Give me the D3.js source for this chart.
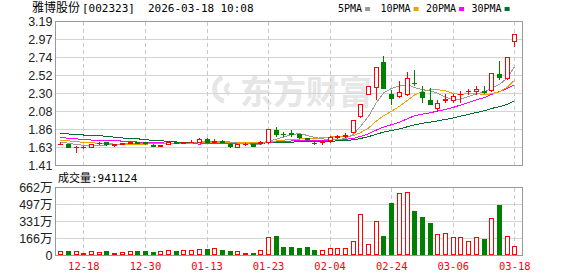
<!DOCTYPE html>
<html>
<head>
<meta charset="utf-8">
<script src="https://cdn.jsdelivr.net/npm/d3@7/dist/d3.min.js"></script>
<style>
  body { margin: 0; background: #fff; }
  svg { display: block; }
  text { font-family: 'Liberation Sans', Arial, 'Noto Sans CJK SC', sans-serif; }
  .mono { font-family: 'DejaVu Sans Mono', 'Noto Sans CJK SC', monospace; }
</style>
</head>
<body>
<div class="kline"></div>
<script>
// trading days shown (60 sessions)
const dates = ['12-15','12-16','12-17','12-18','12-19','12-22','12-23','12-24','12-25','12-26',
  '12-29','12-30','12-31','01-05','01-06','01-07','01-08','01-09','01-12','01-13',
  '01-14','01-15','01-16','01-19','01-20','01-21','01-22','01-23','01-26','01-27',
  '01-28','01-29','01-30','02-02','02-03','02-04','02-05','02-06','02-09','02-10',
  '02-11','02-12','02-13','02-24','02-25','02-26','02-27','03-02','03-03','03-04',
  '03-05','03-06','03-09','03-10','03-11','03-12','03-13','03-16','03-17','03-18'];

const open = [1.678,1.68,1.635,1.635,1.64,1.685,1.695,1.66,1.68,1.69,
  1.70,1.695,1.665,1.655,1.68,1.70,1.69,1.70,1.705,1.74,
  1.705,1.715,1.675,1.64,1.675,1.675,1.69,1.695,1.85,1.805,
  1.81,1.795,1.745,1.69,1.70,1.72,1.765,1.77,1.82,2.025,
  2.30,2.375,2.685,2.30,2.27,2.29,2.425,2.32,2.22,2.12,
  2.225,2.22,2.295,2.325,2.33,2.33,2.34,2.54,2.49,2.945];
const high = [1.70,1.68,1.645,1.655,1.68,1.70,1.70,1.675,1.69,1.71,
  1.705,1.70,1.67,1.665,1.70,1.715,1.705,1.725,1.745,1.745,
  1.74,1.725,1.68,1.68,1.685,1.68,1.71,1.865,1.89,1.82,
  1.845,1.80,1.755,1.705,1.72,1.77,1.785,1.81,1.97,2.17,
  2.39,2.63,2.765,2.34,2.46,2.57,2.59,2.395,2.37,2.22,
  2.30,2.30,2.33,2.35,2.39,2.395,2.55,2.70,2.75,3.03];
const low = [1.67,1.64,1.58,1.625,1.635,1.68,1.66,1.655,1.675,1.685,
  1.685,1.68,1.645,1.645,1.675,1.685,1.685,1.695,1.70,1.695,
  1.69,1.70,1.64,1.635,1.665,1.65,1.68,1.69,1.775,1.77,
  1.775,1.75,1.725,1.675,1.67,1.70,1.755,1.765,1.82,2.015,
  2.30,2.23,2.365,2.175,2.26,2.28,2.40,2.20,2.165,2.08,
  2.19,2.19,2.20,2.30,2.30,2.31,2.33,2.485,2.485,2.89];
const close = [1.68,1.64,1.64,1.64,1.675,1.69,1.67,1.67,1.685,1.70,
  1.69,1.685,1.655,1.66,1.695,1.69,1.70,1.705,1.74,1.70,
  1.71,1.705,1.645,1.675,1.675,1.655,1.695,1.86,1.80,1.80,
  1.805,1.76,1.74,1.685,1.705,1.76,1.77,1.79,1.97,2.17,
  2.39,2.63,2.37,2.25,2.32,2.49,2.425,2.26,2.17,2.18,
  2.23,2.27,2.30,2.33,2.36,2.32,2.55,2.50,2.75,3.03];

// volume in 万股
const volume = [39,48,48,29,45,35,39,20,35,48,
  39,39,32,39,55,48,55,55,65,68,
  74,58,39,39,26,29,55,181,194,87,
  87,77,87,58,55,74,74,74,145,407,
  113,336,194,510,607,617,436,378,320,213,
  223,181,181,145,181,165,368,487,191,94.1];

// moving averages as drawn
const ma5 = [1.70,1.685,1.67,1.66,1.655,1.657,1.663,1.669,1.678,1.683,
  1.683,1.686,1.683,1.678,1.677,1.677,1.68,1.69,1.706,1.707,
  1.711,1.712,1.70,1.687,1.682,1.671,1.669,1.712,1.737,1.762,
  1.792,1.805,1.781,1.758,1.739,1.73,1.732,1.742,1.799,1.892,
  2.018,2.19,2.306,2.362,2.392,2.412,2.371,2.349,2.333,2.305,
  2.253,2.222,2.23,2.262,2.298,2.316,2.372,2.412,2.496,2.63];
const ma10 = [1.725,1.715,1.705,1.695,1.69,1.685,1.68,1.675,1.672,1.669,
  1.67,1.675,1.677,1.679,1.681,1.681,1.684,1.687,1.693,1.693,
  1.695,1.696,1.695,1.696,1.694,1.691,1.69,1.707,1.713,1.723,
  1.732,1.737,1.747,1.748,1.751,1.761,1.769,1.762,1.779,1.816,
  1.874,1.961,2.024,2.081,2.142,2.215,2.281,2.328,2.348,2.349,
  2.333,2.297,2.29,2.298,2.302,2.285,2.297,2.321,2.379,2.464];
const ma20 = [1.76,1.745,1.74,1.73,1.725,1.725,1.72,1.715,1.712,1.705,
  1.70,1.70,1.695,1.69,1.685,1.68,1.68,1.68,1.675,1.681,
  1.682,1.685,1.686,1.688,1.688,1.686,1.687,1.697,1.703,1.708,
  1.713,1.717,1.721,1.722,1.723,1.726,1.73,1.734,1.746,1.769,
  1.803,1.849,1.885,1.914,1.946,1.988,2.025,2.045,2.063,2.082,
  2.103,2.129,2.157,2.189,2.222,2.25,2.289,2.324,2.363,2.406];
const ma30 = [1.81,1.80,1.79,1.787,1.785,1.78,1.77,1.76,1.75,1.745,
  1.74,1.73,1.72,1.715,1.71,1.70,1.70,1.70,1.692,1.69,
  1.69,1.689,1.688,1.687,1.686,1.686,1.687,1.689,1.692,1.695,
  1.699,1.703,1.706,1.708,1.709,1.711,1.714,1.718,1.728,1.744,
  1.767,1.798,1.822,1.842,1.863,1.889,1.913,1.932,1.946,1.962,
  1.98,1.998,2.02,2.042,2.065,2.087,2.115,2.137,2.168,2.209];

// axis labels
const priceTicks = [3.19, 2.97, 2.74, 2.52, 2.30, 2.08, 1.86, 1.63, 1.41];
const volTicks = [662, 497, 331, 166, 0];
const dateTicks = ['12-18','12-30','01-13','01-23','02-04','02-24','03-06','03-18'];
const maNames = ['5PMA', '10PMA', '20PMA', '30PMA'];

const title = { name: '雅博股份', code: '[002323]', day: '2026-03-18', time: '10:08' };
const lastVolume = '941124';

// styles
const RED = '#ff0000', GREEN = '#008000';
const maColors = ['#9a9a9a', '#f0a000', '#ff00ff', '#00702d'];

const W = 578, H = 276;
const left = 55.5, right = 522.5;

const svg = d3.select('.kline').append('svg')
  .attr('width', W).attr('height', H);

// scales
const x = d3.scaleBand().domain(dates).range([56.45, 518.15]);
const y = d3.scaleLinear().domain([1.41, 3.19]).range([165.5, 21.5]);
const yv = d3.scaleLinear().domain([0, 662]).range([255.5, 187.5]);
const cx = d => Math.round(x(d) + x.bandwidth() / 2);
const px = v => Math.floor(v) + 0.5;

// watermark
const wm = svg.append('g').attr('class', 'watermark').style('fill', '#e6e6e6');
const arc = d3.arc();
wm.append('path')
  .attr('transform', 'translate(227,89)')
  .attr('d', arc({ innerRadius: 10, outerRadius: 15, startAngle: -Math.PI * 0.92, endAngle: -Math.PI * 0.12 }));
wm.append('path')
  .attr('transform', 'translate(231,89)')
  .attr('d', arc({ innerRadius: 3, outerRadius: 7, startAngle: -Math.PI * 0.9, endAngle: -Math.PI * 0.1 }));
wm.append('text')
  .attr('x', 240).attr('y', 104)
  .style('font-family', "'Noto Sans CJK SC', sans-serif")
  .style('font-weight', 700)
  .style('font-size', '33px')
  .text('东方财富');

const grid = svg.append('g').attr('shape-rendering', 'crispEdges');

// horizontal grid lines
grid.selectAll('.hgrid')
  .data(priceTicks.slice(1, -1))
  .join('line')
  .attr('x1', left).attr('x2', right)
  .attr('y1', d => px(y(d))).attr('y2', d => px(y(d)))
  .attr('stroke', '#d4d4d4');

grid.selectAll('.vgridv')
  .data(volTicks.slice(1, -1))
  .join('line')
  .attr('x1', left).attr('x2', right)
  .attr('y1', d => px(yv(d))).attr('y2', d => px(yv(d)))
  .attr('stroke', '#d4d4d4');

// vertical dashed lines at labelled dates
[[21.5, 165.5], [187.5, 255.5]].forEach(([t, b]) => {
  grid.append('g').selectAll('line')
    .data(dateTicks)
    .join('line')
    .attr('x1', d => cx(d) + 0.5).attr('x2', d => cx(d) + 0.5)
    .attr('y1', t).attr('y2', b)
    .attr('stroke', '#c8c8c8')
    .attr('stroke-dasharray', '4,3');
});

// pane frames
[[21.5, 165.5], [187.5, 255.5]].forEach(([t, b]) => {
  grid.append('rect')
    .attr('x', left).attr('y', t)
    .attr('width', right - left).attr('height', b - t)
    .attr('fill', 'none')
    .attr('stroke', '#999');
});

// moving average lines
const maSeries = [ma5, ma10, ma20, ma30];
const line = d3.line()
  .x((v, i) => cx(dates[i]) + 0.5)
  .y(v => y(v));

svg.append('g').selectAll('path')
  .data(maSeries.slice().reverse())
  .join('path')
  .attr('d', line)
  .attr('fill', 'none')
  .attr('stroke', (d, i) => maColors[3 - i])
  .attr('stroke-width', 1)
  .attr('shape-rendering', 'crispEdges');

// candle data
const candles = dates.map((d, i) => {
  const o = open[i], c = close[i];
  const up = c > o || (c === o && (i === 0 || c >= close[i - 1]));
  return { date: d, o, h: high[i], l: low[i], c, v: volume[i], up };
});

// candles
const k = svg.append('g').attr('shape-rendering', 'crispEdges');
k.selectAll('g')
  .data(candles)
  .join('g')
  .each(function (d) {
    const g = d3.select(this);
    const r = cx(d.date);
    const col = d.up ? RED : GREEN;
    g.append('line')
      .attr('x1', r + 0.5).attr('x2', r + 0.5)
      .attr('y1', Math.round(y(d.h))).attr('y2', Math.round(y(d.l)) + 1)
      .attr('stroke', col);
    const t = Math.round(y(Math.max(d.o, d.c)));
    const b = Math.round(y(Math.min(d.o, d.c)));
    if (b - t < 1) {
      g.append('line')
        .attr('x1', r - 2).attr('x2', r + 3)
        .attr('y1', t + 0.5).attr('y2', t + 0.5)
        .attr('stroke', col);
    } else if (d.up) {
      g.append('rect')
        .attr('x', r - 1.5).attr('y', t + 0.5)
        .attr('width', 4).attr('height', b - t)
        .attr('fill', '#fff').attr('stroke', RED);
    } else {
      g.append('rect')
        .attr('x', r - 2).attr('y', t)
        .attr('width', 5).attr('height', b - t + 1)
        .attr('fill', GREEN);
    }
  });

// volume bars
svg.append('g').attr('shape-rendering', 'crispEdges')
  .selectAll('rect')
  .data(candles)
  .join('rect')
  .attr('x', d => cx(d.date) - (d.up ? 1.5 : 2))
  .attr('y', d => Math.round(yv(d.v)) + (d.up ? 0.5 : 0))
  .attr('width', d => d.up ? 4 : 5)
  .attr('height', d => 255 - Math.round(yv(d.v)) - (d.up ? 1 : 0))
  .attr('fill', d => d.up ? '#fff' : GREEN)
  .attr('stroke', d => d.up ? RED : 'none');

// y axis labels
const yAxis = d3.axisLeft(y).tickValues(priceTicks).tickFormat(d3.format('.2f')).tickSize(0).tickPadding(3);
const yAxisDraw = svg.append('g').attr('transform', `translate(${left},0)`).call(yAxis);
yAxisDraw.select('.domain').remove();

const vAxis = d3.axisLeft(yv).tickValues(volTicks)
  .tickFormat(d => d === 0 ? '0' : d + '万').tickSize(0).tickPadding(3);
const vAxisDraw = svg.append('g').attr('transform', `translate(${left},0)`).call(vAxis);
vAxisDraw.select('.domain').remove();

[yAxisDraw, vAxisDraw].forEach(a => a.selectAll('text')
  .style('font-family', "'Liberation Sans', Arial, 'Noto Sans CJK SC', sans-serif")
  .style('font-size', '12.5px')
  .attr('fill', '#222'));

// x axis labels
const xAxis = d3.axisBottom(x).tickValues(dateTicks).tickSize(0).tickPadding(0);
const xAxisDraw = svg.append('g').attr('transform', 'translate(0.5,262)').call(xAxis);
xAxisDraw.select('.domain').remove();
xAxisDraw.selectAll('text')
  .attr('class', 'mono')
  .attr('dy', 0).attr('y', 8)
  .style('font-family', "'DejaVu Sans Mono', monospace")
  .style('font-size', '10.5px')
  .attr('fill', RED);

// header
const head = svg.append('text').attr('class', 'mono').attr('y', 12)
  .style('font-size', '11px').attr('fill', '#000');
head.append('tspan').attr('x', 32).style('font-size', '12px').text(title.name);
head.append('tspan').attr('x', 82).text(title.code);
head.append('tspan').attr('x', 148).text(title.day);
head.append('tspan').attr('x', 220.5).text(title.time);

// legend
const legendX = [338, 380.5, 426, 471.5];
const lg = svg.append('g').attr('class', 'legend');
lg.selectAll('text')
  .data(maNames)
  .join('text')
  .attr('class', 'mono')
  .attr('x', (d, i) => legendX[i]).attr('y', 12)
  .style('font-size', '10px')
  .attr('fill', '#000')
  .text(d => d);
lg.selectAll('rect')
  .data(maNames)
  .join('rect')
  .attr('x', (d, i) => legendX[i] + d.length * 6.02 + 3)
  .attr('y', 7).attr('width', 5).attr('height', 4)
  .attr('fill', (d, i) => maColors[i]);

// volume caption
svg.append('text').attr('class', 'mono')
  .attr('x', 58).attr('y', 181.5)
  .style('font-size', '11px')
  .attr('fill', '#000')
  .text('成交量:' + lastVolume);
</script>
</body>
</html>
